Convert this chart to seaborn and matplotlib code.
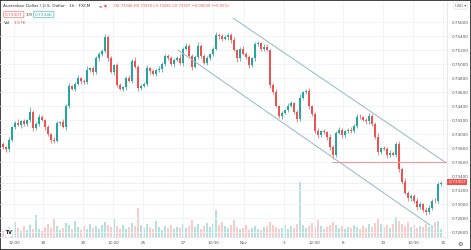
import matplotlib
matplotlib.use("Agg")
import matplotlib.pyplot as plt
import seaborn as sns
import numpy as np
import pandas as pd
from matplotlib.patches import Rectangle

# ---------------- data ----------------
closes = [0.7381, 0.7378, 0.7392, 0.7410, 0.7416, 0.7413, 0.7418, 0.7414, 0.7420, 0.7432,
          0.7408, 0.7415, 0.7424, 0.7420, 0.7410, 0.7400, 0.7392, 0.7390, 0.7416, 0.7417,
          0.7410, 0.7440, 0.7468, 0.7465, 0.7472, 0.7480, 0.7476, 0.7474, 0.7492, 0.7494,
          0.7488, 0.7508, 0.7515, 0.7518, 0.7538, 0.7508, 0.7489, 0.7498, 0.7470, 0.7465,
          0.7467, 0.7480, 0.7476, 0.7505, 0.7496, 0.7466, 0.7469, 0.7472, 0.7494, 0.7490,
          0.7486, 0.7491, 0.7493, 0.7500, 0.7512, 0.7508, 0.7500, 0.7506, 0.7509, 0.7501,
          0.7522, 0.7526, 0.7512, 0.7496, 0.7510, 0.7526, 0.7512, 0.7502, 0.7508, 0.7514,
          0.7522, 0.7542, 0.7540, 0.7536, 0.7538, 0.7542, 0.7534, 0.7520, 0.7508, 0.7522,
          0.7515, 0.7510, 0.7498, 0.7508, 0.7528, 0.7530, 0.7522, 0.7525, 0.7520, 0.7470,
          0.7460, 0.7440, 0.7426, 0.7430, 0.7434, 0.7440, 0.7444, 0.7432, 0.7422, 0.7452,
          0.7460, 0.7462, 0.7440, 0.7428, 0.7405, 0.7398, 0.7404, 0.7403, 0.7396, 0.7382,
          0.7370, 0.7402, 0.7406, 0.7398, 0.7404, 0.7406, 0.7404, 0.7412, 0.7425, 0.7424,
          0.7420, 0.7418, 0.7426, 0.7414, 0.7396, 0.7374, 0.7380, 0.7379, 0.7370, 0.7373,
          0.7370, 0.7386, 0.7350, 0.7332, 0.7316, 0.7308, 0.7312, 0.7304, 0.7296, 0.7300,
          0.7292, 0.7288, 0.7295, 0.7305, 0.7304, 0.7328, 0.73307]
first_open = 0.7386
wick_up = [3,2,4,2,3,5,2,3,2,6, 3,2,4,3,2,3,2,4,3,2, 4,3,5,2,3,4,2,3,5,2,
           3,4,2,3,5,4,3,2,4,3, 2,3,4,2,5,3,2,3,4,2, 3,2,4,3,2,3,4,2,3,5,
           2,4,3,2,3,5,2,3,4,2, 3,4,2,3,4,2,3,5,2,3, 4,2,3,2,4,3,2,3,4,2,
           3,4,2,3,2,4,3,2,3,5, 2,3,4,2,3,4,2,3,2,4, 3,2,4,3,2,3,4,2,3,4,
           2,3,4,2,3,5,2,3,2,4, 3,2,4,3,5,2,3,2,4,3, 2,4,3,2,3,4,2]
wick_dn = [2,4,3,2,3,2,4,3,2,3, 4,2,3,2,4,3,5,3,2,3, 2,4,3,2,3,2,4,3,2,3,
           4,2,3,4,2,3,2,4,3,2, 3,4,2,3,2,4,3,2,3,4, 2,3,2,4,3,2,3,4,2,3,
           4,2,3,5,2,3,4,2,3,2, 3,2,4,3,2,3,4,2,5,3, 2,3,4,2,3,2,4,3,2,4,
           3,2,3,4,2,3,2,4,5,3, 2,3,4,2,3,4,2,3,4,5, 5,3,2,4,3,2,3,2,4,3,
           2,4,3,2,3,4,3,2,4,3, 2,3,4,3,2,4,3,2,4,3, 3,4,2,3,2,3,2]
volume_k = [1.2, 1.6, 2.0, 1.4, 3.0, 1.8, 1.3, 2.2, 1.5, 2.4,
            1.7, 4.4, 1.6, 1.3, 2.0, 2.6, 1.9, 3.6, 2.2, 1.5,
            1.8, 2.8, 2.4, 1.6, 3.2, 2.0, 1.5, 2.2, 1.7, 2.6,
            1.9, 2.2, 1.6, 2.4, 3.0, 2.5, 2.0, 3.8, 2.2, 1.7,
            2.4, 1.6, 2.0, 2.8, 2.2, 5.8, 2.4, 1.8, 2.6, 2.0,
            1.6, 3.2, 2.0, 1.4, 2.2, 1.8, 2.5, 1.6, 2.0, 1.8,
            2.6, 1.9, 2.3, 3.4, 2.0, 2.6, 1.7, 2.2, 2.9, 2.0,
            2.6, 5.4, 2.4, 3.0, 2.2, 1.8, 2.4, 3.4, 2.0, 1.6,
            1.9, 2.4, 1.5, 1.8, 2.2, 1.7, 1.4, 2.0, 2.3, 3.0,
            2.4, 2.0, 1.6, 1.8, 2.4, 1.7, 2.2, 1.9, 2.6, 11.0,
            2.4, 1.8, 2.2, 2.8, 2.0, 3.4, 2.2, 1.6, 2.0, 2.4,
            3.0, 2.4, 1.8, 2.2, 1.6, 2.0, 1.8, 2.4, 2.0, 1.6,
            2.2, 1.8, 2.6, 2.0, 2.8, 3.8, 2.6, 2.0, 2.4, 1.8,
            2.6, 4.0, 3.2, 2.6, 2.2, 3.0, 2.0, 2.4, 1.8, 2.2,
            2.0, 2.6, 2.0, 2.4, 3.0, 3.2, 1.57]

price_ticks = [0.756, 0.754, 0.752, 0.750, 0.748, 0.746, 0.744, 0.742, 0.740,
               0.738, 0.736, 0.734, 0.732, 0.730, 0.728, 0.726]
time_tick_pos = [3.67, 13.33, 26.67, 36.67, 46.67, 60, 70, 80.33, 93.67, 103.67,
                 113.33, 126.67, 136.67, 146.67]
time_tick_labels = ["12:00", "18", "20", "12:00", "25", "27", "12:00", "Nov",
                    "3", "12:00", "8", "10", "12:00", "15"]
channel_upper_x = [76.67, 147.33]
channel_upper_y = [0.75657, 0.7360]
channel_lower_x = [58.33, 142.33]
channel_lower_y = [0.7520, 0.7270]
level_price = 0.736
level_start = 109.67
last_price = 0.73307

# ---------------- build frame ----------------
n = len(closes)
opens = [first_open] + closes[:-1]
df = pd.DataFrame({
    "i": np.arange(n),
    "open": opens,
    "close": closes,
    "high": [max(o, c) + u * 0.0001 for o, c, u in zip(opens, closes, wick_up)],
    "low": [min(o, c) - d * 0.0001 for o, c, d in zip(opens, closes, wick_dn)],
    "vol": volume_k,
})
df["up"] = df["close"] >= df["open"]

UP = "#26a69a"
DN = "#ef5350"

sns.set_theme(style="white")
plt.rcParams["font.family"] = ["DejaVu Sans"]

W, H = 471, 250
fig = plt.figure(figsize=(W / 100, H / 100), dpi=100)
fig.patch.set_facecolor("white")

def fx(px):
    return px / W

def fy(py):
    return 1 - py / H

ax_left, ax_right, ax_top, ax_bot = 0, 447, 2, 237
rect = [fx(ax_left), fy(ax_bot), fx(ax_right - ax_left), (ax_bot - ax_top) / H]
vax = fig.add_axes(rect)
ax = fig.add_axes(rect)
ax.set_zorder(vax.get_zorder() + 1)
ax.patch.set_visible(False)

# volume
vcolors = ["#b5e1dc" if u else "#f9cccb" for u in df["up"]]
vax.bar(df["i"], df["vol"], width=0.6, color=vcolors, linewidth=0)
vax.set_xlim(-1, 148)
vax.set_ylim(0, 47)
vax.axis("off")

# grid
ax.set_xlim(-1, 148)
ax.set_ylim(0.72529, 0.75886)
ax.set_yticks(price_ticks)
ax.set_yticklabels([f"{p:.5f}" for p in price_ticks])
ax.set_xticks(time_tick_pos)
ax.set_xticklabels(time_tick_labels)
ax.grid(True, color="#f0f3fa", lw=0.6)
ax.yaxis.tick_right()
ax.tick_params(axis="y", length=0, pad=3.5, labelsize=3.0, labelcolor="#555555")
ax.tick_params(axis="x", length=0, pad=3, labelsize=3.0, labelcolor="#555555")
for s in ["top", "left"]:
    ax.spines[s].set_visible(False)
for s in ["right", "bottom"]:
    ax.spines[s].set_color("#e0e3eb")
    ax.spines[s].set_linewidth(0.6)

# last price dotted line
ax.axhline(last_price, color="#d0d3d8", lw=0.5, ls=(0, (1, 1)), zorder=1)

# candles
colors = [UP if u else DN for u in df["up"]]
ax.vlines(df["i"], df["low"], df["high"], colors=colors, lw=0.5, zorder=2)
bottoms = df[["open", "close"]].min(axis=1)
heights = (df["close"] - df["open"]).abs().clip(lower=0.00004)
ax.bar(df["i"], heights, bottom=bottoms, width=0.65, color=colors, linewidth=0, zorder=3)

# channel
chan = pd.DataFrame({
    "x": channel_upper_x + channel_lower_x,
    "y": channel_upper_y + channel_lower_y,
    "line": ["upper", "upper", "lower", "lower"],
})
sns.lineplot(data=chan, x="x", y="y", units="line", estimator=None,
             color="#9fbfca", lw=0.8, ax=ax, zorder=4)
ax.set_xlabel("")
ax.set_ylabel("")

# horizontal level
ax.plot([level_start, 148], [level_price, level_price], color="#ef9a9a", lw=0.8, zorder=4)

# ------------- overlays -------------
fs = 3.1
fig.text(fx(3), fy(6), "Australian Dollar / U.S. Dollar · 1h · FXCM", fontsize=fs,
         color="#333333", va="center", ha="left")
fig.text(fx(99), fy(6), "≡", fontsize=fs, color="#888888", va="center", ha="left")
fig.text(fx(104), fy(6), "●", fontsize=fs * 0.8, color=DN, va="center", ha="left",
         bbox=dict(boxstyle="round,pad=0.15", fc="#fde9e9", ec="none"))
fig.text(fx(114), fy(6), "O0.73346 H0.73350 L0.73281 C0.73307 −0.00039 (−0.05%)",
         fontsize=2.7, color=DN, va="center", ha="left")

fig.text(fx(5), fy(14.5), "0.73307", fontsize=fs, color=DN, va="center", ha="left",
         bbox=dict(boxstyle="round,pad=0.3", fc="white", ec=DN, lw=0.4))
fig.text(fx(26), fy(14.5), "3.9", fontsize=fs, color="#333333", va="center", ha="left")
fig.text(fx(35), fy(14.5), "0.73346", fontsize=fs, color=UP, va="center", ha="left",
         bbox=dict(boxstyle="round,pad=0.3", fc="white", ec=UP, lw=0.4))
fig.text(fx(4), fy(23), "Vol", fontsize=fs, color="#333333", va="center", ha="left")
fig.text(fx(13), fy(23), "1.57K", fontsize=fs, color=DN, va="center", ha="left")

# currency selector
fig.text(fx(455), fy(6), "USD ▾", fontsize=2.7, color="#555555", va="center", ha="left",
         bbox=dict(boxstyle="round,pad=0.3", fc="white", ec="#cfd3da", lw=0.4))

# last price label
fig.text(fx(448.5), fy(182), f"{last_price:.5f}", fontsize=fs, color="white",
         va="center", ha="left",
         bbox=dict(boxstyle="square,pad=0.25", fc=DN, ec="none"))

# tradingview logo
fig.text(fx(8.5), fy(233), "TV", fontsize=3.4, color="#131722", fontweight="bold",
         va="center", ha="center",
         bbox=dict(boxstyle="circle,pad=0.2", fc="white", ec="#e0e3eb", lw=0.3))

# settings gear
fig.text(fx(460), fy(244), "⚙", fontsize=4.5, color="#444444", va="center", ha="center")

# frame
fig.add_artist(Rectangle((0, 0), 1, 1, transform=fig.transFigure, fill=False,
                         ec="#222222", lw=1.2))

fig.savefig("out.png", dpi=100, facecolor="white")
